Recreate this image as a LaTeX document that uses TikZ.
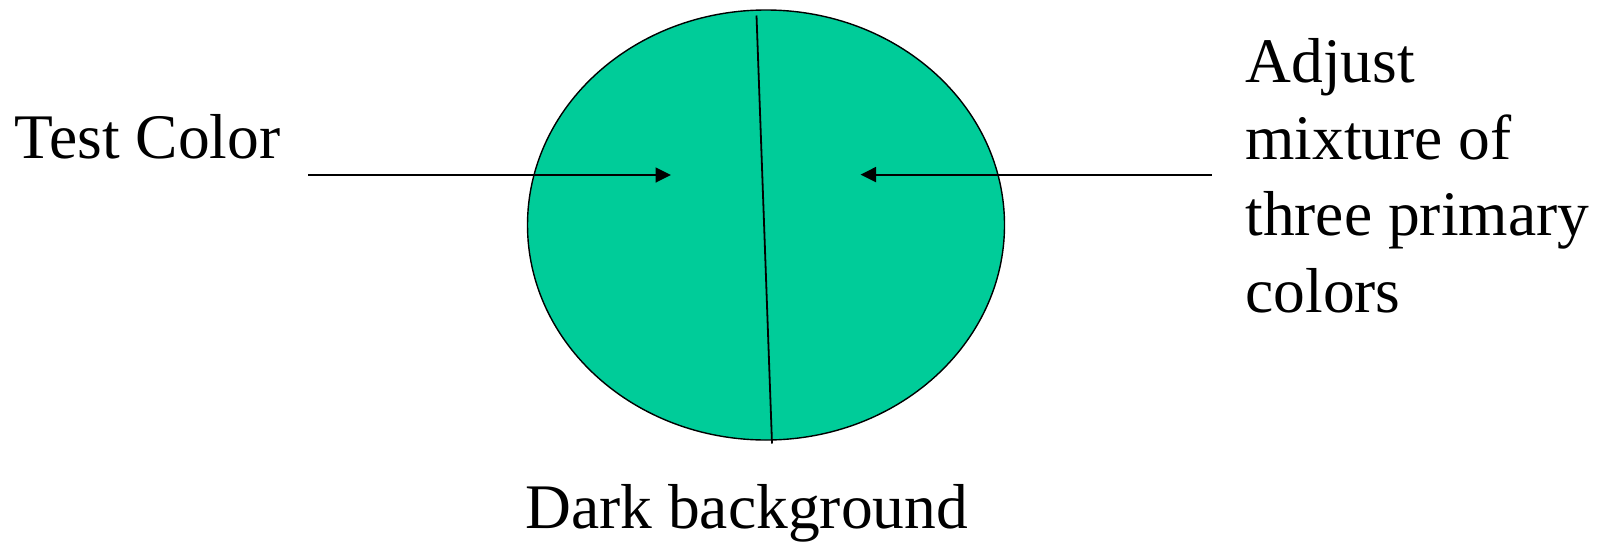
\documentclass[tikz,border=0pt]{standalone}
\usepackage{fontspec}
\setmainfont{Liberation Serif}
\usetikzlibrary{arrows.meta,shapes.geometric}
\definecolor{disc}{RGB}{0,204,153}
\begin{document}
\begin{tikzpicture}[x=0.5pt,y=-0.5pt,
  lbl/.style={inner sep=0pt, anchor=base west, font=\fontsize{31.75}{38.25}\selectfont},
  conn/.style={line width=0.9pt, -{Triangle[length=7.75pt,width=7.5pt]}},
  divider/.style={line width=0.9pt},
  discstyle/.style={ellipse, draw, line width=0.7pt, fill=disc, inner sep=0pt,
    minimum width=238.5pt, minimum height=215pt}]
\useasboundingbox (0,0) rectangle (1605,541);
\node[discstyle] (disk) at (766,225) {};
\coordinate (divtop) at (756.5,15.5);
\coordinate (divbot) at (772,443.5);
\draw[divider] (divtop) -- (divbot);
\node[lbl] (test) at (14.5,158.7) {Test Color};
\node[lbl, align=left] (adjust) at (1245,312.3) {Adjust\\mixture of\\three primary\\colors};
\node[lbl] (dark) at (525,528.6) {Dark background};
\coordinate (tcfrom) at (308,175);
\coordinate (tcto) at (671,175);
\draw[conn] (tcfrom) -- (tcto);
\coordinate (amfrom) at (1211.6,174.6);
\coordinate (amto) at (860.5,174.6);
\draw[conn] (amfrom) -- (amto);
\end{tikzpicture}
\end{document}
